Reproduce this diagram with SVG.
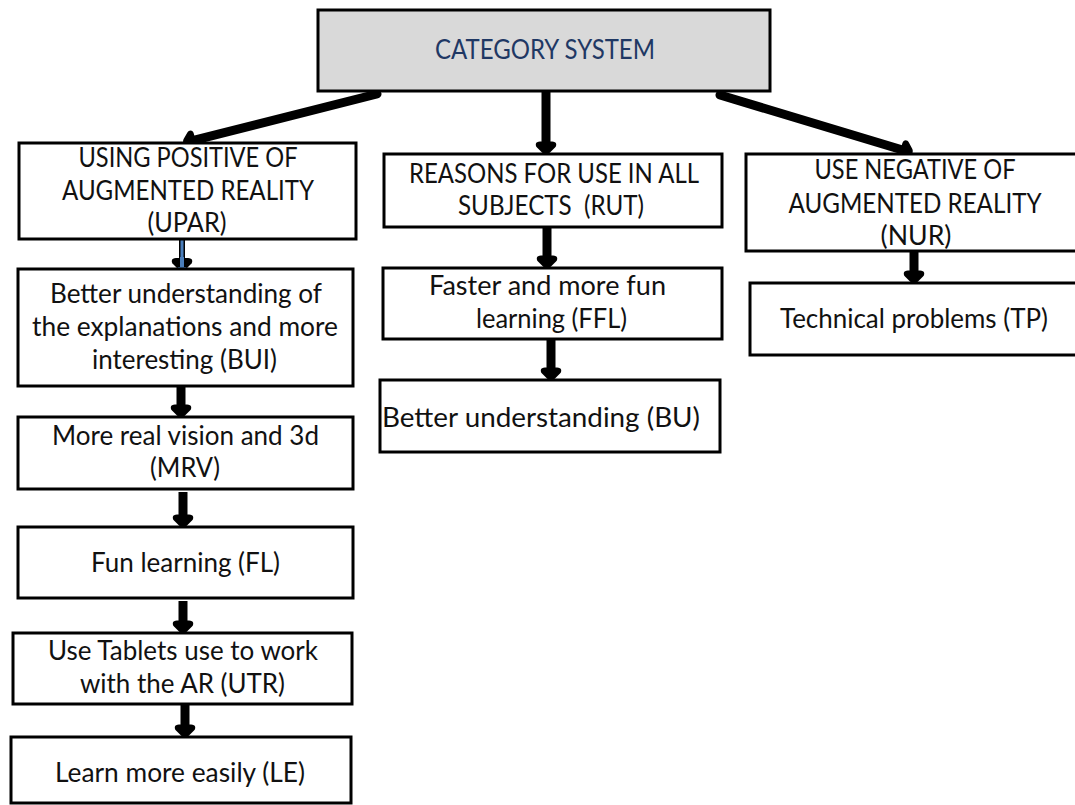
<svg xmlns="http://www.w3.org/2000/svg" width="1075" height="805" viewBox="0 0 1075 805">
<style>
.bx{fill:#ffffff;stroke:#000;stroke-width:3}
.top{fill:#d9d9d9;stroke:#000;stroke-width:3}
text{font-family:Lato,"Liberation Sans",sans-serif;font-size:26px;fill:#111;text-anchor:middle}
.ttl{fill:#1f3864}
.c{fill:none;stroke:#000;stroke-width:9;stroke-linecap:round}
.cv{fill:none;stroke:#000;stroke-width:9;stroke-linecap:butt}
</style>
<defs>
<marker id="ah" markerUnits="userSpaceOnUse" viewBox="-2 -13 18 26" refX="3" refY="0" markerWidth="18" markerHeight="26" orient="auto" overflow="visible">
<path d="M0,-6 C0,-11 4,-11 6,-9 L11,-4 C13,-2 13,2 11,4 L6,9 C4,11 0,11 0,6 Z" fill="#000"/>
</marker>
<marker id="ahb" markerUnits="userSpaceOnUse" viewBox="-2 -13 18 26" refX="3" refY="0" markerWidth="18" markerHeight="26" orient="auto" overflow="visible">
<path d="M0,-6 C0,-11 4,-11 6,-9 L11,-4 C13,-2 13,2 11,4 L6,9 C4,11 0,11 0,6 Z" fill="#000"/>
<path d="M-1,-2 L9,-2 L9,-5 L12,0 L9,5 L9,2 L-1,2 Z" fill="#4a7ebb"/>
</marker>
</defs>

<g id="connectors">
<line class="c" x1="377" y1="94" x2="192.5" y2="140.6" marker-end="url(#ah)"/>
<line class="cv" x1="546" y1="92" x2="546" y2="144.5" marker-end="url(#ah)"/>
<line class="c" x1="720" y1="95" x2="903.4" y2="150.2" marker-end="url(#ah)"/>
<line x1="182" y1="240" x2="182" y2="259.5" stroke="#000" stroke-width="6"/>
<line x1="182" y1="240" x2="182" y2="261" stroke="#4a7ebb" stroke-width="3" marker-end="url(#ahb)"/>
<line class="cv" x1="181" y1="387" x2="181" y2="407.5" marker-end="url(#ah)"/>
<line class="cv" x1="183" y1="492" x2="183" y2="517.5" marker-end="url(#ah)"/>
<line class="cv" x1="183" y1="601" x2="183" y2="623.5" marker-end="url(#ah)"/>
<line class="cv" x1="185" y1="705" x2="185" y2="727.5" marker-end="url(#ah)"/>
<line class="cv" x1="547" y1="228" x2="547" y2="258.5" marker-end="url(#ah)"/>
<line class="cv" x1="551" y1="340" x2="551" y2="370.5" marker-end="url(#ah)"/>
<line class="cv" x1="914" y1="252" x2="914" y2="273.5" marker-end="url(#ah)"/>
</g>

<g id="n-category">
<rect class="top" x="318" y="10" width="452" height="81"/>
<text class="ttl" x="545" y="59" textLength="220" lengthAdjust="spacingAndGlyphs">CATEGORY SYSTEM</text>
</g>

<g id="n-upar">
<rect class="bx" x="19" y="143" width="337" height="96"/>
<text x="188" y="167" textLength="219" lengthAdjust="spacingAndGlyphs">USING POSITIVE OF</text>
<text x="188" y="200" textLength="252" lengthAdjust="spacingAndGlyphs">AUGMENTED REALITY</text>
<text x="187" y="232" textLength="79" lengthAdjust="spacingAndGlyphs">(UPAR)</text>
</g>

<g id="n-rut">
<rect class="bx" x="384" y="154" width="338" height="73"/>
<text x="554" y="183" textLength="290" lengthAdjust="spacingAndGlyphs">REASONS FOR USE IN ALL</text>
<text x="551" y="215" textLength="186" lengthAdjust="spacingAndGlyphs" xml:space="preserve">SUBJECTS  (RUT)</text>
</g>

<g id="n-nur">
<rect class="bx" x="746" y="154" width="340" height="97"/>
<text x="915" y="179" textLength="201" lengthAdjust="spacingAndGlyphs">USE NEGATIVE OF</text>
<text x="915" y="213" textLength="253" lengthAdjust="spacingAndGlyphs">AUGMENTED REALITY</text>
<text x="916" y="245" textLength="71" lengthAdjust="spacingAndGlyphs">(NUR)</text>
</g>

<g id="n-bui">
<rect class="bx" x="18" y="269" width="335" height="117"/>
<text x="186" y="303" textLength="272" lengthAdjust="spacingAndGlyphs">Better understanding of</text>
<text x="185" y="336" textLength="306" lengthAdjust="spacingAndGlyphs">the explanations and more</text>
<text x="184.5" y="369" textLength="185" lengthAdjust="spacingAndGlyphs">interesting (BUI)</text>
</g>

<g id="n-mrv">
<rect class="bx" x="18" y="417" width="335" height="72"/>
<text x="185.5" y="445" textLength="267" lengthAdjust="spacingAndGlyphs">More real vision and 3d</text>
<text x="185" y="477" textLength="70" lengthAdjust="spacingAndGlyphs">(MRV)</text>
</g>

<g id="n-fl">
<rect class="bx" x="18" y="527" width="335" height="71"/>
<text x="185.5" y="572" textLength="189" lengthAdjust="spacingAndGlyphs">Fun learning (FL)</text>
</g>

<g id="n-utr">
<rect class="bx" x="13" y="633" width="339" height="71"/>
<text x="183" y="660" textLength="270" lengthAdjust="spacingAndGlyphs">Use Tablets use to work</text>
<text x="182.5" y="693" textLength="205" lengthAdjust="spacingAndGlyphs">with the AR (UTR)</text>
</g>

<g id="n-le">
<rect class="bx" x="11" y="737" width="340" height="66"/>
<text x="180" y="782" textLength="250" lengthAdjust="spacingAndGlyphs">Learn more easily (LE)</text>
</g>

<g id="n-ffl">
<rect class="bx" x="383" y="268" width="339" height="71"/>
<text x="547.5" y="295" textLength="237" lengthAdjust="spacingAndGlyphs">Faster and more fun</text>
<text x="551.5" y="328" textLength="151" lengthAdjust="spacingAndGlyphs">learning (FFL)</text>
</g>

<g id="n-bu">
<rect class="bx" x="380" y="380" width="340" height="72"/>
<text x="541" y="427" textLength="318" lengthAdjust="spacingAndGlyphs">Better understanding (BU)</text>
</g>

<g id="n-tp">
<rect class="bx" x="750" y="283" width="336" height="72"/>
<text x="914" y="328" textLength="268" lengthAdjust="spacingAndGlyphs">Technical problems (TP)</text>
</g>
</svg>
